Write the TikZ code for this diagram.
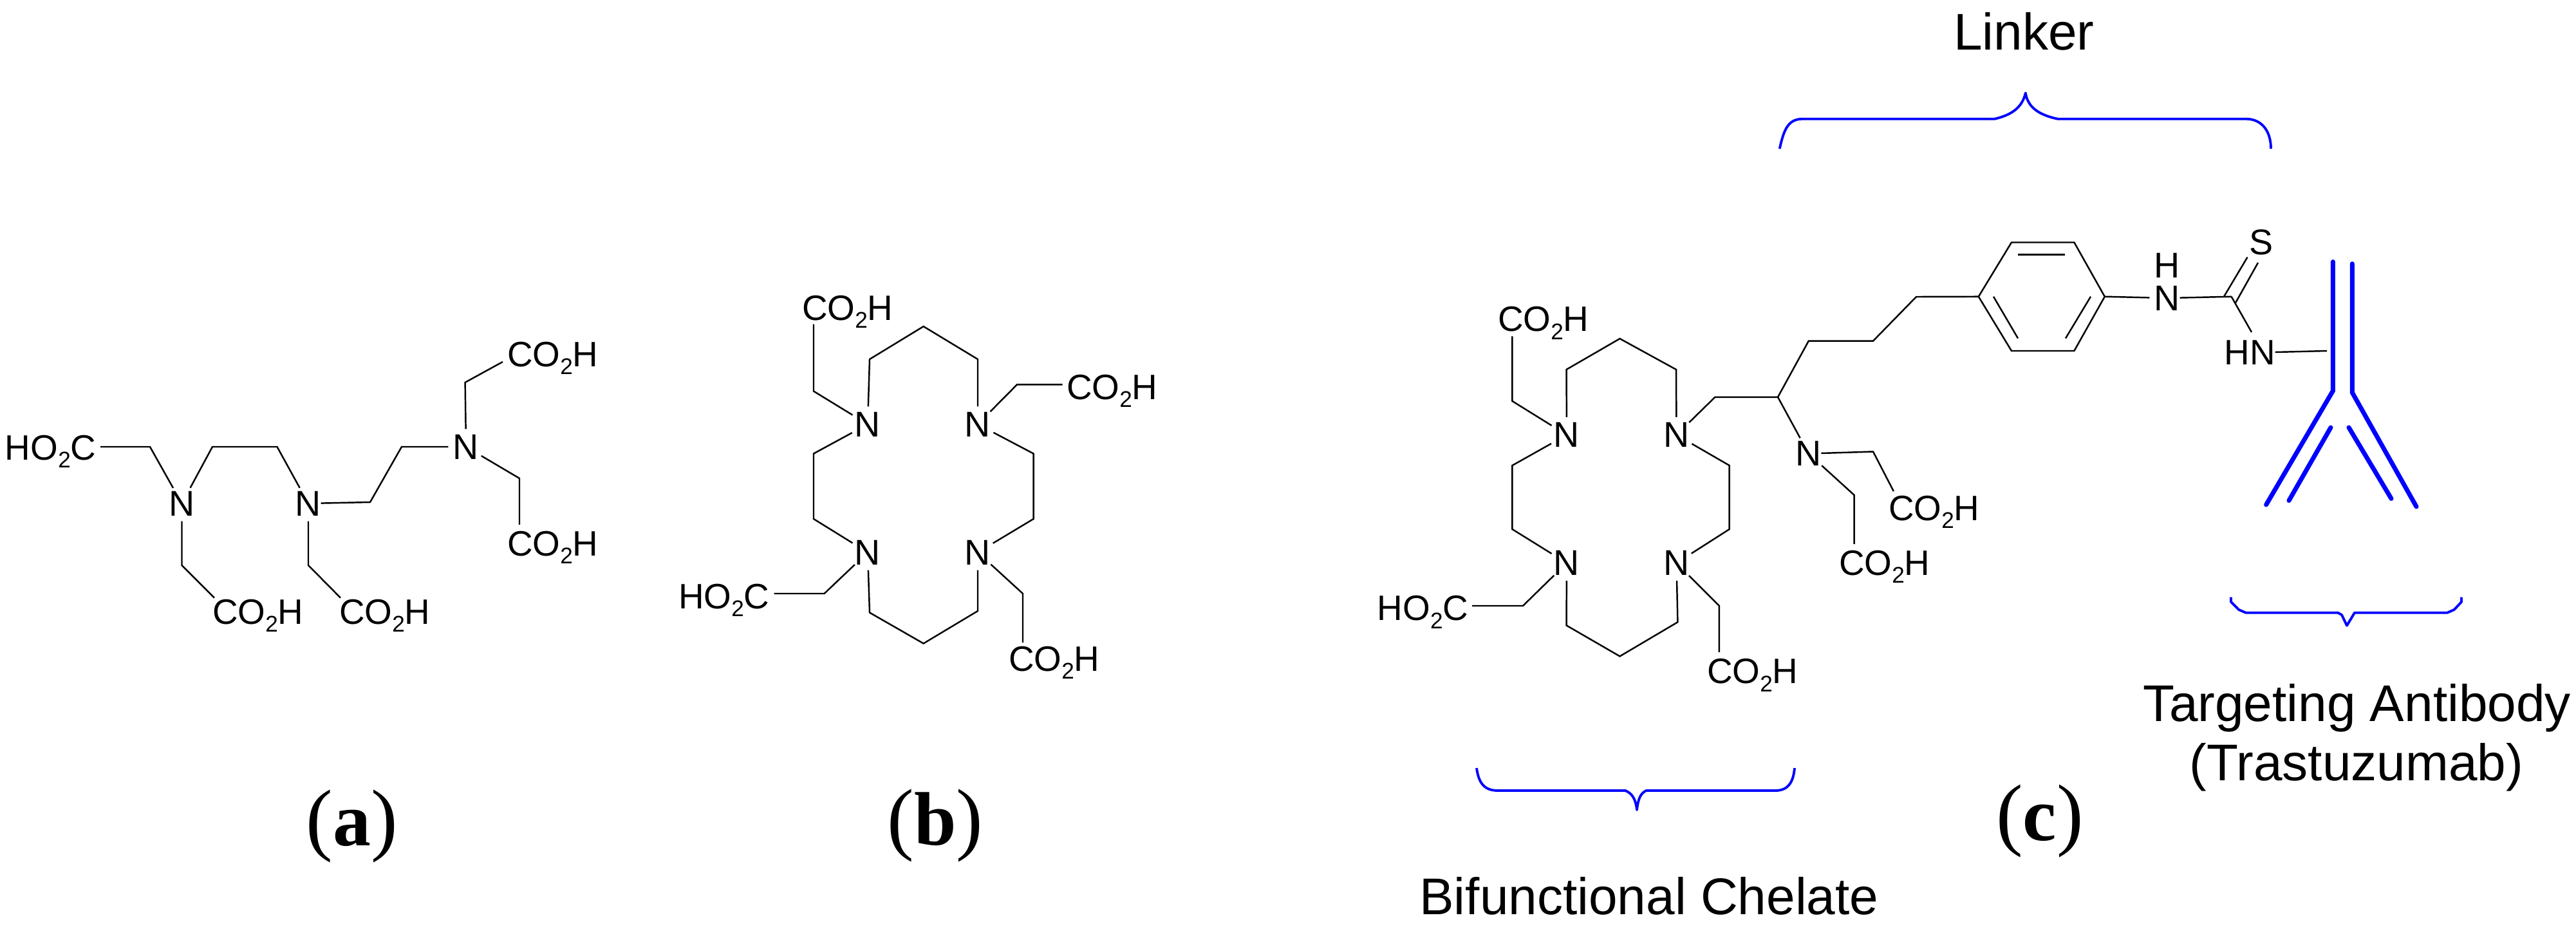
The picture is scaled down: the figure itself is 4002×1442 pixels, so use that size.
\documentclass[tikz,border=0pt]{standalone}
\usepackage{fontspec}
\setmainfont{Liberation Sans}
\newfontfamily\panelfont{Liberation Serif}
\newcommand{\subtwo}{\raisebox{-3.6pt}{\fontsize{10}{10}\selectfont 2}}
\newcommand{\acidR}{CO\subtwo H}
\newcommand{\acidL}{HO\subtwo C}
\newcommand{\panelname}[1]{({\bfseries\fontsize{33.5}{40}\selectfont #1})}
\tikzset{
  bond/.style={line width=0.7pt,line join=miter,black},
  atom/.style={circle,minimum size=0.54cm,inner sep=0pt,outer sep=0pt,font=\fontsize{15.8}{18}\selectfont},
  acid/.style={anchor=base west,inner sep=0pt,outer sep=0pt,font=\fontsize{15.6}{18}\selectfont},
  tag/.style={anchor=base,inner sep=0pt,font=\fontsize{22.8}{26}\selectfont},
  panel/.style={anchor=base,inner sep=0pt,font=\panelfont\fontsize{35.5}{40}\selectfont},
  bluebrace/.style={line width=1.1pt,blue,line join=round},
  antibody/.style={line width=2pt,blue,line cap=round,line join=miter}
}
\begin{document}
\begin{tikzpicture}[x=0.01cm,y=-0.01cm]
\useasboundingbox (0,0) rectangle (4002,1442);

% panel a
\node[atom] (an1) at (282.5,782) {N};
\node[atom] (an2) at (479,782) {N};
\node[atom] (an3) at (724,694) {N};
\node[acid] (aa1) at (8,714) {\acidL};
\node[acid] (aa2) at (788,569) {\acidR};
\node[acid] (aa3) at (788,863) {\acidR};
\node[acid] (aa4) at (330,969) {\acidR};
\node[acid] (aa5) at (527,969) {\acidR};
\coordinate (av1) at (156,694); \coordinate (av2) at (233,694);
\coordinate (av3) at (330,694); \coordinate (av4) at (430.5,694);
\coordinate (av5) at (575,780); \coordinate (av6) at (624,694);
\coordinate (av7) at (722.6,594); \coordinate (av8) at (781,562);
\coordinate (av9) at (807,743); \coordinate (av10) at (807,815);
\coordinate (av11) at (282.5,878); \coordinate (av12) at (333,928.6);
\coordinate (av13) at (479,878); \coordinate (av14) at (529,928.6);
\draw[bond] (av1) -- (av2) -- (an1);
\draw[bond] (an1) -- (av3) -- (av4) -- (an2);
\draw[bond,shorten <=-0.08cm] (an2) -- (av5) -- (av6) -- (an3);
\draw[bond] (an3) -- (av7) -- (av8);
\draw[bond] (an3) -- (av9) -- (av10);
\draw[bond] (an1) -- (av11) -- (av12);
\draw[bond] (an2) -- (av13) -- (av14);
\node[panel] (pa) at (547,1313) {\panelname{a}};

% panel b
\node[atom] (bn1) at (1348,659) {N};
\node[atom] (bn2) at (1519,659) {N};
\node[atom] (bn3) at (1348,858) {N};
\node[atom] (bn4) at (1519,858) {N};
\node[acid] (ba1) at (1246,497) {\acidR};
\node[acid] (ba2) at (1657,620) {\acidR};
\node[acid] (ba3) at (1054,945) {\acidL};
\node[acid] (ba4) at (1567,1042) {\acidR};
\coordinate (bv1) at (1434.7,507); \coordinate (bv2) at (1351,558);
\coordinate (bv3) at (1519,558); \coordinate (bv4) at (1264,704.6);
\coordinate (bv5) at (1264,806); \coordinate (bv6) at (1605.6,704.6);
\coordinate (bv7) at (1605.6,806); \coordinate (bv8) at (1351,951.5);
\coordinate (bv9) at (1434.7,999.5); \coordinate (bv10) at (1519,949);
\coordinate (bv11) at (1264,607.6); \coordinate (bv12) at (1264,503.6);
\coordinate (bv13) at (1580,597.4); \coordinate (bv14) at (1650.5,597.4);
\coordinate (bv15) at (1280.6,922); \coordinate (bv16) at (1202.5,922);
\coordinate (bv17) at (1589,922); \coordinate (bv18) at (1589,998);
\draw[bond] (bn1) -- (bv2) -- (bv1) -- (bv3) -- (bn2);
\draw[bond] (bn1) -- (bv4) -- (bv5) -- (bn3);
\draw[bond] (bn2) -- (bv6) -- (bv7) -- (bn4);
\draw[bond] (bn3) -- (bv8) -- (bv9) -- (bv10) -- (bn4);
\draw[bond] (bn1) -- (bv11) -- (bv12);
\draw[bond] (bn2) -- (bv13) -- (bv14);
\draw[bond] (bn3) -- (bv15) -- (bv16);
\draw[bond] (bn4) -- (bv17) -- (bv18);
\node[panel] (pb) at (1453,1312) {\panelname{b}};

% panel c, chelate
\node[atom] (cn1) at (2434,675.5) {N};
\node[atom] (cn2) at (2604.5,675.5) {N};
\node[atom] (cn3) at (2434,874.5) {N};
\node[atom] (cn4) at (2604.5,874.5) {N};
\node[atom] (cn5) at (2809.8,704.6) {N};
\node[acid] (ca1) at (2327,514.8) {\acidR};
\node[acid] (ca2) at (2139.7,963.8) {\acidL};
\node[acid] (ca3) at (2652,1061.7) {\acidR};
\node[acid] (ca4) at (2934,808) {\acidR};
\node[acid] (ca5) at (2857,893) {\acidR};
\coordinate (cv1) at (2516.5,526); \coordinate (cv2) at (2433.5,574);
\coordinate (cv3) at (2604,574); \coordinate (cv4) at (2349.4,723);
\coordinate (cv5) at (2349.4,822); \coordinate (cv6) at (2686.7,723);
\coordinate (cv7) at (2686.7,822); \coordinate (cv8) at (2433.5,971.4);
\coordinate (cv9) at (2516.5,1019.4); \coordinate (cv10) at (2606.4,966.3);
\coordinate (cv11) at (2349.4,623); \coordinate (cv12) at (2349.4,522.4);
\coordinate (cv13) at (2366,941); \coordinate (cv14) at (2287,941);
\coordinate (cv15) at (2670.8,941); \coordinate (cv16) at (2670.8,1013);
\coordinate (cv17) at (2664.4,616.8); \coordinate (cv18) at (2762,616.8);
\coordinate (cv19) at (2809.8,529.6); \coordinate (cv20) at (2910,529.6);
\coordinate (cv21) at (2977,461); \coordinate (cv22) at (2910,701.5);
\coordinate (cv23) at (2941.8,763); \coordinate (cv24) at (2880.6,769);
\coordinate (cv25) at (2880.6,845);
\draw[bond] (cn1) -- (cv2) -- (cv1) -- (cv3) -- (cn2);
\draw[bond] (cn1) -- (cv4) -- (cv5) -- (cn3);
\draw[bond] (cn2) -- (cv6) -- (cv7) -- (cn4);
\draw[bond] (cn3) -- (cv8) -- (cv9) -- (cv10) -- (cn4);
\draw[bond] (cn1) -- (cv11) -- (cv12);
\draw[bond] (cn3) -- (cv13) -- (cv14);
\draw[bond] (cn4) -- (cv15) -- (cv16);
\draw[bond] (cn2) -- (cv17) -- (cv18) -- (cn5);
\draw[bond,shorten <=-0.08cm] (cn5) -- (cv22) -- (cv23);
\draw[bond] (cn5) -- (cv24) -- (cv25);

% panel c, linker
\coordinate (r1) at (3073.8,460.7); \coordinate (r2) at (3125,376.5);
\coordinate (r3) at (3222.4,376.5); \coordinate (r4) at (3269.8,460.7);
\coordinate (r5) at (3222.4,545); \coordinate (r6) at (3125,545);
\coordinate (d1) at (3135,395.4); \coordinate (d2) at (3208,395.4);
\coordinate (d3) at (3097,460.7); \coordinate (d4) at (3135,525.5);
\coordinate (d5) at (3248,460.7); \coordinate (d6) at (3209,525.5);
\coordinate (cs) at (3466.6,460.7);
\coordinate (s1) at (3455,460.7); \coordinate (s2) at (3491.5,399.5);
\coordinate (s3) at (3473,470.4); \coordinate (s4) at (3508,408);
\coordinate (hb) at (3498,516); \coordinate (ab) at (3615,545);
\node[atom] (nh) at (3367,463) {N};
\node[atom] (hh) at (3367,412) {H};
\node[atom] (ss) at (3513,376) {S};
\node[acid,anchor=center] (hn) at (3495,548) {HN};
\draw[bond] (cv18) -- (cv19) -- (cv20) -- (cv21) -- (r1);
\draw[bond] (r1) -- (r2) -- (r3) -- (r4) -- (r5) -- (r6) -- cycle;
\draw[bond] (d1) -- (d2);
\draw[bond] (d3) -- (d4);
\draw[bond] (d5) -- (d6);
\draw[bond] (r4) -- (nh);
\draw[bond,shorten <=-0.08cm] (nh) -- (cs);
\draw[bond] (s1) -- (s2);
\draw[bond] (s3) -- (s4);
\draw[bond] (cs) -- (hb);
\draw[bond] (hn) -- (ab);

% antibody
\coordinate (y1) at (3624.4,406.6); \coordinate (y2) at (3624.4,607);
\coordinate (y3) at (3520.6,784); \coordinate (y4) at (3654.3,409.7);
\coordinate (y5) at (3654.3,609.7); \coordinate (y6) at (3754,787);
\coordinate (y7) at (3621,664); \coordinate (y8) at (3556,777.5);
\coordinate (y9) at (3649,664); \coordinate (y10) at (3715,774.5);
\draw[antibody] (y1) -- (y2) -- (y3);
\draw[antibody] (y4) -- (y5) -- (y6);
\draw[antibody] (y7) -- (y8);
\draw[antibody] (y9) -- (y10);

% braces
\draw[bluebrace] (2764.8,231) .. controls (2772,197) and (2780,184.7) .. (2801.3,184.7)
  -- (3098.7,184.7) .. controls (3128,178) and (3142,165) .. (3146.8,144.4)
  .. controls (3150,165) and (3165,178) .. (3196.7,184.7)
  -- (3489,184.7) .. controls (3515,184.7) and (3528,205) .. (3528,231);
\draw[bluebrace] (2294,1193) .. controls (2297,1215) and (2305,1228) .. (2327,1228)
  -- (2525,1228) .. controls (2535,1232) and (2541,1240) .. (2543,1258)
  .. controls (2545,1240) and (2549,1232) .. (2557.5,1228)
  -- (2758,1228) .. controls (2778,1228) and (2786,1215) .. (2788,1193);
\draw[bluebrace] (3466,927.7) -- (3466,935) -- (3478,947) -- (3489,951.7)
  -- (3632,951.7) -- (3638,955) -- (3646,971.7) -- (3658,951.7)
  -- (3802,951.7) -- (3812.7,947) -- (3824,935) -- (3824,927.7);

\node[tag] (linker) at (3144.4,77.5) {Linker};
\node[tag] (chelate) at (2562,1420) {Bifunctional Chelate};
\node[tag] (target) at (3662,1120) {Targeting Antibody};
\node[tag] (trast) at (3661,1212) {(Trastuzumab)};
\node[panel] (pc) at (3169,1305) {\panelname{c}};
\end{tikzpicture}
\end{document}
